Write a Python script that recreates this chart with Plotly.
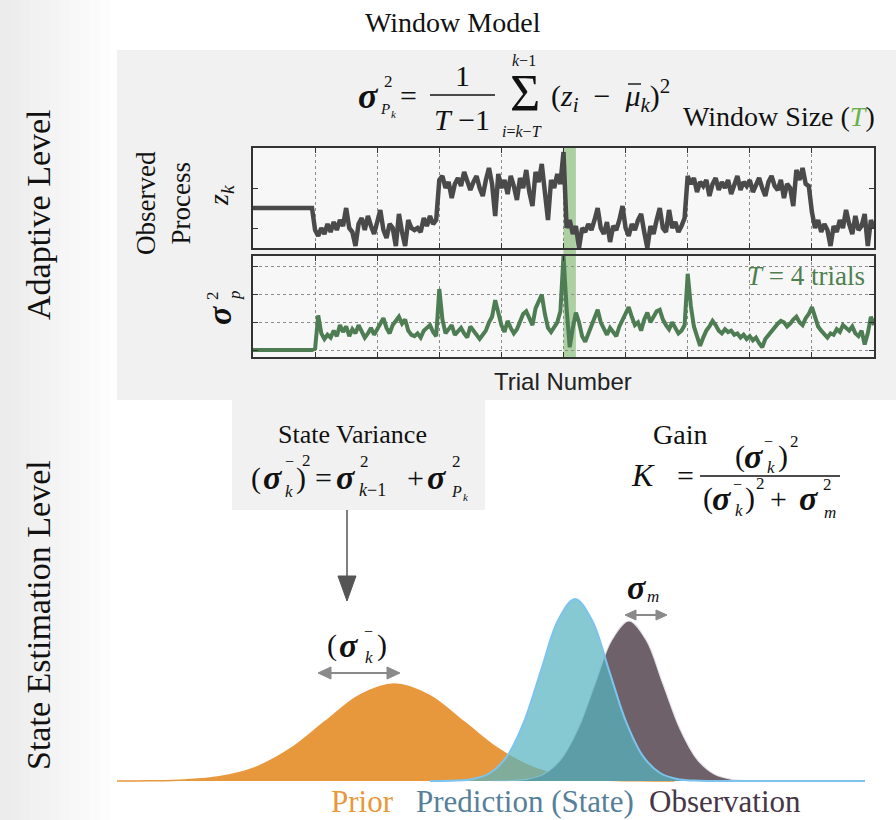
import plotly.graph_objects as go

W, H = 896, 820
SERIF = "Liberation Serif, Times New Roman, Times, serif"
SANS = "Liberation Sans, Arial, sans-serif"
NB = "\u00a0"

# ---------------- data ----------------
TRIALS = list(range(201))

Z_OBS = [
    1.5, 1.5, 1.5, 1.5, 1.5, 1.5, 1.5, 1.5, 1.5, 1.5, 1.5, 1.5, 1.5, 1.5, 1.5, 1.5, 1.5, 1.5, 1.5, 1.5,
    0.95, 0.8, 1.0, 0.85, 1.1, 0.9, 1.15, 0.95, 1.2, 1.05, 1.5, 1.0, 0.9, 0.55, 1.1, 1.25, 0.95, 1.3, 1.05, 0.85,
    1.15, 1.45, 0.95, 0.75, 1.1, 1.0, 0.55, 1.35, 0.9, 0.55, 1.2, 1.0, 0.95, 1.0, 0.9, 1.25, 1.05, 1.3, 1.1, 1.2,
    2.2, 2.3, 2.0, 2.15, 1.75, 2.1, 2.25, 2.05, 2.4, 2.2, 1.95, 2.15, 2.3, 2.0, 1.8, 2.2, 2.5, 2.1, 1.3, 2.35,
    2.0, 2.2, 1.85, 2.3, 2.05, 1.7, 2.25, 2.0, 2.45, 1.9, 1.55, 2.4, 2.15, 2.6, 1.95, 1.2, 2.2, 2.0, 2.35, 2.1,
    2.9, 1.0, 1.2, 0.85, 1.05, 0.5, 1.0, 0.9, 1.1, 0.95, 1.2, 1.5, 1.0, 0.85, 1.15, 0.65, 1.05, 0.95, 1.2, 1.55,
    1.0, 0.8, 1.1, 0.95, 1.2, 1.35, 0.9, 0.5, 1.05, 0.85, 1.2, 1.5, 1.0, 0.9, 1.45, 1.0, 1.15, 0.9, 1.05, 1.25,
    2.3, 2.1, 2.25, 1.9, 2.15, 2.05, 2.2, 1.8, 2.1, 2.25, 1.95, 2.15, 2.0, 2.2, 1.85, 2.1, 2.3, 1.95, 2.15, 2.05,
    2.2, 1.9, 2.1, 2.25, 2.0, 1.8, 2.15, 2.3, 2.05, 1.95, 2.2, 1.75, 2.1, 2.0, 1.55, 2.45, 2.2, 2.5, 2.1, 2.05,
    1.4, 1.0, 1.2, 0.9, 1.1, 0.95, 0.55, 1.05, 0.9, 1.2, 1.0, 1.45, 1.1, 0.85, 1.3, 0.95, 1.05, 1.35, 0.55, 1.2,
    1.0,
]

SIGMA_P = [
    0.0, 0.0, 0.0, 0.0, 0.0, 0.0, 0.0, 0.0, 0.0, 0.0, 0.0, 0.0, 0.0, 0.0, 0.0, 0.0, 0.0, 0.0, 0.0, 0.0,
    0.05, 1.25, 0.6, 0.4, 0.55, 0.45, 0.7, 0.5, 0.9, 0.65, 0.85, 0.5, 0.75, 0.6, 0.9, 0.7, 0.45, 0.6, 0.8, 0.55,
    0.75, 0.95, 1.15, 0.8, 0.6, 0.9, 1.05, 1.2, 0.95, 1.1, 0.7, 0.55, 0.5, 0.6, 0.45, 0.7, 0.8, 0.9, 0.65, 0.5,
    2.2, 1.1, 0.6, 0.75, 0.9, 0.55, 0.7, 0.8, 0.6, 0.45, 0.85, 0.7, 0.5, 0.4, 0.55, 0.7, 1.0, 1.2, 1.8, 1.3,
    0.9, 0.65, 1.05, 0.8, 0.6, 0.75, 1.0, 1.3, 1.4, 1.1, 0.9, 1.5, 1.8, 2.0, 1.3, 0.8, 0.65, 0.85, 1.0, 1.4,
    3.4, 1.5, 0.1, 0.8, 1.35, 1.0, 0.5, 0.3, 0.6, 0.9, 1.2, 1.45, 1.0, 0.75, 0.55, 0.8, 0.65, 0.5, 0.85, 1.1,
    1.3, 1.55, 1.2, 0.9, 1.0, 0.7, 1.1, 1.35, 1.0, 1.2, 1.4, 1.45, 1.1, 0.9, 0.75, 1.0, 0.8, 0.6, 0.7, 0.9,
    2.75, 1.6, 0.85, 0.5, 0.15, 0.45, 0.7, 0.85, 1.05, 0.9, 0.7, 0.6, 0.75, 0.65, 0.7, 0.55, 0.6, 0.45, 0.55, 0.4,
    0.5, 0.35, 0.45, 0.25, 0.1, 0.4, 0.55, 0.7, 0.85, 0.95, 1.05, 1.0, 0.85, 0.95, 1.1, 1.2, 1.0, 0.9, 1.15, 1.3,
    1.55, 1.2, 0.85, 0.7, 0.55, 0.45, 0.6, 0.55, 0.75, 0.65, 0.9, 0.8, 0.7, 0.85, 0.6, 0.5, 0.7, 0.2, 0.6, 1.2,
    0.9,
]

WINDOW_START, WINDOW_END = 100, 104   # T = 4 trials
Z_TICKS = [1, 2]
S_TICKS = [0, 1, 2, 3]
GRID_STEP = 20

PRIOR_X = [-4.04, -3.58, -3.08, -2.58, -2.08, -1.58, -1.08, -0.58, -0.08, 0.42, 0.92, 1.42, 1.92, 2.42, 2.92, 3.42, 3.92]
PRIOR_Y = [0.0, 0.0021, 0.0108, 0.0426, 0.131, 0.315, 0.588, 0.856, 0.97, 0.856, 0.588, 0.315, 0.131, 0.0426, 0.0108, 0.0021, 0.0]

OBS_X = [1.326, 1.569, 1.812, 2.055, 2.298, 2.541, 2.784, 3.027, 3.27, 3.513, 3.756, 3.999, 4.242, 4.485, 4.728, 4.971, 5.214]
OBS_Y = [0.0, 0.0035, 0.018, 0.070, 0.217, 0.520, 0.970, 1.412, 1.60, 1.412, 0.970, 0.520, 0.217, 0.070, 0.018, 0.0035, 0.0]

PRED_X = [0.43, 0.799, 1.042, 1.285, 1.528, 1.771, 2.014, 2.257, 2.5, 2.743, 2.986, 3.229, 3.472, 3.715, 3.958, 4.201, 4.444, 6.64]
PRED_Y = [0.0, 0.004, 0.020, 0.080, 0.246, 0.591, 1.104, 1.606, 1.82, 1.606, 1.104, 0.591, 0.246, 0.080, 0.020, 0.004, 0.0, 0.0]

LABELS = ["Prior", "Prediction (State)", "Observation"]
LABEL_COLORS = ["#e8973a", "#56809a", "#463646"]

# ---------------- helpers ----------------
def px(x):
    return x / W

def py(y):
    return 1 - y / H

shapes = []
annotations = []

def rect(x0, y0, x1, y1, color, layer="below"):
    shapes.append(dict(type="rect", xref="paper", yref="paper", x0=px(x0), x1=px(x1),
                       y0=py(y1), y1=py(y0), fillcolor=color, line=dict(width=0), layer=layer))

def line(x0, y0, x1, y1, color, width):
    shapes.append(dict(type="line", xref="paper", yref="paper", x0=px(x0), x1=px(x1),
                       y0=py(y0), y1=py(y1), line=dict(color=color, width=width), layer="above"))

def tri(pts, color):
    d = "M " + " L ".join(f"{px(a):.5f},{py(b):.5f}" for a, b in pts) + " Z"
    shapes.append(dict(type="path", xref="paper", yref="paper", path=d, fillcolor=color,
                       line=dict(color=color, width=1), layer="above"))

def T(x, y, text, size, color="#111111", xa="center", ya="middle", family=SERIF, angle=0):
    annotations.append(dict(x=px(x), y=py(y), xref="paper", yref="paper", text=text, showarrow=False,
                            font=dict(family=family, size=size, color=color), xanchor=xa, yanchor=ya,
                            textangle=angle, borderpad=0))

SIG = "<b><i>σ</i></b>"

# ---------------- backgrounds ----------------
for i in range(12):
    g = int(236 + i * 19 / 11)
    rect(i * 10, 0, i * 10 + 10, H, f"rgb({g},{g},{g})")
rect(117, 50, 896, 400, "#f1f1f1")
rect(232, 398, 485, 510, "#f1f1f1")
rect(253, 148, 874, 248, "#f7f7f7")
rect(253, 256, 874, 357, "#f7f7f7")
shapes.append(dict(type="rect", xref="x", yref="paper", x0=WINDOW_START, x1=WINDOW_END,
                   y0=py(357), y1=py(148), fillcolor="rgba(100,170,80,0.5)", line=dict(width=0), layer="below"))

# ---------------- traces ----------------
fig = go.Figure()
fig.add_trace(go.Scatter(x=TRIALS, y=Z_OBS, mode="lines", xaxis="x", yaxis="y",
                         line=dict(color="#4a4a4a", width=4.5), hoverinfo="skip"))
fig.add_trace(go.Scatter(x=TRIALS, y=SIGMA_P, mode="lines", xaxis="x2", yaxis="y2",
                         line=dict(color="#4e7d54", width=4), hoverinfo="skip"))
fig.add_trace(go.Scatter(x=PRIOR_X, y=PRIOR_Y, mode="lines", xaxis="x3", yaxis="y3", fill="tozeroy",
                         fillcolor="rgb(232,152,60)", line=dict(color="rgb(232,152,60)", width=1.5, shape="spline"),
                         hoverinfo="skip"))
fig.add_trace(go.Scatter(x=OBS_X, y=OBS_Y, mode="lines", xaxis="x3", yaxis="y3", fill="tozeroy",
                         fillcolor="rgb(110,97,105)", line=dict(color="rgba(230,230,236,0.9)", width=1.2, shape="spline"),
                         hoverinfo="skip"))
fig.add_trace(go.Scatter(x=PRED_X, y=PRED_Y, mode="lines", xaxis="x3", yaxis="y3", fill="tozeroy",
                         fillcolor="rgba(88,180,193,0.72)", line=dict(color="#7cc4ee", width=2, shape="spline"),
                         hoverinfo="skip"))

frame = dict(showline=True, linecolor="#333333", linewidth=1.5, mirror="ticks", ticks="inside",
             ticklen=5, tickcolor="#333333", tickwidth=1, showticklabels=False, zeroline=False)
grid = dict(showgrid=True, gridcolor="#8c8c8c", griddash="dot", gridwidth=1)

fig.update_layout(
    width=W, height=H, margin=dict(l=0, r=0, t=0, b=0),
    paper_bgcolor="white", plot_bgcolor="rgba(0,0,0,0)", showlegend=False,
    xaxis=dict(domain=[px(253), px(874)], range=[0, 200], anchor="y", tick0=0, dtick=GRID_STEP, **frame, **grid),
    yaxis=dict(domain=[py(248), py(148)], range=[0.5, 3.0], anchor="x", tickvals=Z_TICKS, showgrid=False, **frame),
    xaxis2=dict(domain=[px(253), px(874)], range=[0, 200], anchor="y2", tick0=0, dtick=GRID_STEP, **frame, **grid),
    yaxis2=dict(domain=[py(357), py(256)], range=[-0.25, 3.39], anchor="x2", tickvals=S_TICKS, **frame, **grid),
    xaxis3=dict(domain=[px(117), px(865)], range=[-4.04, 6.64], anchor="y3", visible=False),
    yaxis3=dict(domain=[py(784), py(560)], range=[-0.03, 2.21], anchor="x3", visible=False),
)

# ---------------- text ----------------
T(38, 215, "Adaptive Level", 34, angle=-90)
T(38, 615, "State Estimation Level", 34, angle=-90)
T(453, 22, "Window Model", 28)

# top formula
T(368, 96, SIG, 36)
T(388, 82, "2", 17)
T(385, 109, "<i>P</i>", 15)
T(394, 114, "<i>k</i>", 11)
T(408, 95, "=", 30)
T(462, 76, "1", 30)
line(430, 95, 495, 95, "#111111", 1.6)
T(462, 119, "<i>T</i> −1", 30)
T(525, 94, "Σ", 52)
T(524, 61, "<i>k</i>−1", 16)
T(522, 131, "<i>i</i>=<i>k</i>−<i>T</i>", 16)
T(550, 95, "(<i>z</i><sub><i>i</i></sub>" + NB * 2 + "−" + NB * 2 + "<i>μ</i><sub><i>k</i></sub>)<sup>2</sup>", 30, xa="left")
line(628, 84, 641, 84, "#111111", 1.4)
T(876, 116, "Window Size (<span style='color:#6ab04c'><i>T</i></span>)", 28, xa="right")

# panel labels
T(163, 203, "Observed<br>Process", 27, angle=-90)
T(220, 196, "<i>z</i><sub><i>k</i></sub>", 28, angle=-90)
T(219, 315, SIG, 34, angle=-90)
T(212, 296, "2", 17, angle=-90)
T(234, 295, "<i>p</i>", 17, angle=-90)
T(866, 276, "<i>T</i> = 4 trials", 27, color="#4f7f4f", xa="right")
T(563, 381, "Trial Number", 24, family=SANS, color="#222222")

# state variance
T(352, 434, "State Variance", 26)
T(250, 478, "(", 30, xa="left")
T(262, 478, SIG, 34, xa="left")
T(289, 462, "−", 16)
T(289, 491, "<i>k</i>", 17)
T(295, 478, ")", 30, xa="left")
T(306, 460, "2", 17)
T(323, 478, "=", 30)
T(335, 478, SIG, 34, xa="left")
T(364, 462, "2", 17)
T(358, 490, "<i>k</i>−1", 18, xa="left")
T(415, 478, "+", 30)
T(426, 478, SIG, 34, xa="left")
T(456, 462, "2", 17)
T(450, 491, "<i>P</i>", 16, xa="left")
T(462, 497, "<i>k</i>", 11, xa="left")

# gain
T(680, 434, "Gain", 28)
T(643, 475, "<i>K</i>", 32)
T(685, 476, "=", 30)
line(700, 476, 840, 476, "#111111", 1.6)
# numerator
T(734, 456, "(", 30, xa="left")
T(743, 456, SIG, 34, xa="left")
T(768, 441, "−", 16)
T(771, 468, "<i>k</i>", 17)
T(777, 456, ")", 30, xa="left")
T(794, 441, "2", 17)
# denominator
T(702, 498, "(", 30, xa="left")
T(711, 498, SIG, 34, xa="left")
T(737, 484, "−", 16)
T(739, 510, "<i>k</i>", 17)
T(744, 498, ")", 30, xa="left")
T(760, 483, "2", 17)
T(778, 498, "+", 30)
T(798, 498, SIG, 34, xa="left")
T(827, 484, "2", 17)
T(830, 512, "<i>m</i>", 17)

# bottom
line(347, 510, 347, 580, "#555555", 1.5)
tri([(338, 576), (356, 576), (347, 601)], "#555555")

T(326, 645, "(", 30, xa="left")
T(338, 645, SIG, 34, xa="left")
T(368, 631, "−", 16)
T(369, 657, "<i>k</i>", 17)
T(376, 645, ")", 30, xa="left")
line(328, 673, 390, 673, "#8a8a8a", 2)
tri([(318, 673), (331, 667), (331, 679)], "#8a8a8a")
tri([(400, 673), (387, 667), (387, 679)], "#8a8a8a")

T(626, 587, SIG, 34, xa="left")
T(653, 596, "<i>m</i>", 17)
line(633, 615, 659, 615, "#8a8a8a", 2)
tri([(625, 615), (636, 610), (636, 620)], "#8a8a8a")
tri([(667, 615), (656, 610), (656, 620)], "#8a8a8a")

for lab, col, xc in zip(LABELS, LABEL_COLORS, [362, 525, 725]):
    T(xc, 801, lab, 31, color=col)

fig.update_layout(shapes=shapes, annotations=annotations)
fig.write_html("out.html", config={"displayModeBar": False},
               post_script="document.body.style.margin='0px';")
